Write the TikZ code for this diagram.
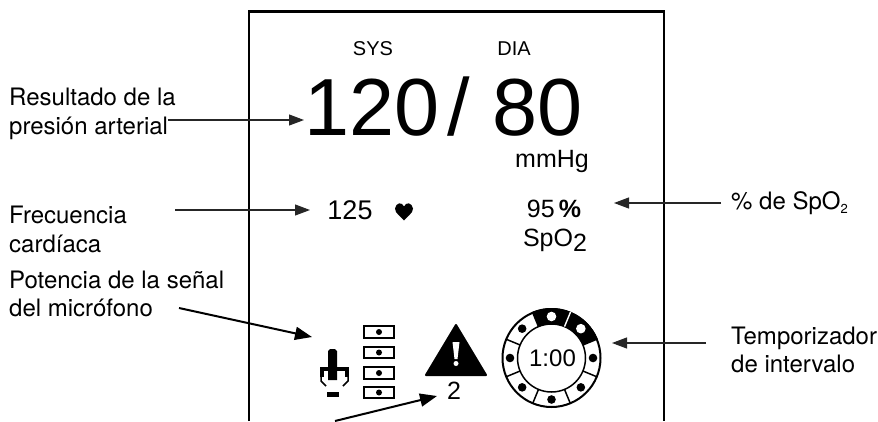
\documentclass[tikz,border=0pt]{standalone}
\usepackage{fontspec}
\setmainfont{TeX Gyre Heros}
\newfontfamily\disp{Liberation Sans}
\usetikzlibrary{arrows.meta}
\tikzset{
 lbl/.style={anchor=base west,inner sep=0pt,font=\fontsize{24}{26}\selectfont},
 dsp/.style={anchor=base,inner sep=0pt,font=\disp\fontsize{20}{22}\selectfont},
 conn/.style={line width=1.1pt,-{Stealth[length=15pt,width=11pt,inset=0pt]},black!85},
 connb/.style={line width=2pt,-{Stealth[length=17pt,width=13pt,inset=0pt]}},
 frame/.style={line width=2.4pt},
 seg/.style={line width=1.5pt},
 bar/.style={draw,line width=1.6pt,fill=white}
}
\begin{document}
\begin{tikzpicture}[x=1pt,y=-1pt]
\useasboundingbox (0,0) rectangle (878,421);
\draw[frame] (249,421) -- (249,11.5) -- (664,11.5) -- (664,421);
% display
\node[dsp] (sys) at (373,55) {SYS};
\node[dsp] (dia) at (514,55) {DIA};
\node[dsp,anchor=base west,font=\disp\fontsize{81}{88}\selectfont] (bp) at (304,135) {120\kern8pt/ 80};
\node[dsp,font=\disp\fontsize{25}{28}\selectfont] (mm) at (552,167) {mmHg};
\node[dsp,font=\disp\fontsize{27}{30}\selectfont] (hr) at (350,219) {125};
\node[inner sep=0pt] (heart) at (404,211) {\tikz[x=1pt,y=-1pt]\fill (0,4) .. controls (1,-2) and (7,-3) .. (9,2) .. controls (11,-3) and (17,-2) .. (18,4) .. controls (18,9) and (12,12) .. (9,16) .. controls (6,12) and (0,9) .. (0,4) -- cycle;};
\node[dsp,font=\disp\fontsize{25}{28}\selectfont] (spv) at (554,217) {95\,\textbf{\%}};
\node[dsp,font=\disp\fontsize{25}{28}\selectfont] (spn) at (555,246) {SpO\raisebox{-5pt}{2}};
% labels
\node[lbl] (l1a) at (9,105) {Resultado de la};
\node[lbl] (l1b) at (9,134) {presión arterial};
\node[lbl] (l2a) at (9,223) {Frecuencia};
\node[lbl] (l2b) at (9,252) {cardíaca};
\node[lbl] (l3a) at (9,288) {Potencia de la señal};
\node[lbl] (l3b) at (9,316) {del micrófono};
\node[lbl] (l4) at (731,209) {\% de SpO\raisebox{-4pt}{\fontsize{13}{13}\selectfont 2}};
\node[lbl] (l5a) at (731,344) {Temporizador};
\node[lbl] (l5b) at (731,372) {de intervalo};
% mic icon
\fill (328,351) -- (330,349) -- (335,349) -- (337,351) -- (337,380) -- (328,380) -- cycle;
\draw[line width=3.5pt] (322,377) -- (322,369) -- (347,369) -- (347,377);
\draw[line width=1.5pt] (321,376) -- (321,381) -- (326,386);
\draw[line width=1.5pt] (348,376) -- (348,381) -- (343,386);
\fill (327,392) rectangle (339,397);
% level boxes
\foreach \yy/\hh in {326/338,347/358,367/379,387/398}{
  \draw[bar] (364,\yy) rectangle (394,\hh);
  \fill (379,{(\yy+\hh)/2}) circle (3);
}
% alarm
\draw[fill,line join=round,line width=2pt] (456,325) -- (486,375) -- (426,375) -- cycle;
\fill[white] (452.5,342) -- (459.5,342) -- (457.5,359) -- (454.5,359) -- cycle;
\fill[white] (456,363.5) circle (2.5);
\node[dsp,font=\disp\fontsize{25}{28}\selectfont] (two) at (454,399) {2};
% timer
\begin{scope}[shift={(551.5,358)},x=1pt,y=1pt]
  \fill (67.5:50) arc[start angle=67.5,end angle=112.5,radius=50] -- (112.5:34) arc[start angle=112.5,end angle=67.5,radius=34] -- cycle;
  \fill (22.5:50) arc[start angle=22.5,end angle=67.5,radius=50] -- (67.5:34) arc[start angle=67.5,end angle=22.5,radius=34] -- cycle;
  \draw[line width=2pt] (0,0) circle (49);
  \draw[seg] (0,0) circle (34);
  \draw[white,line width=1.4pt] (67.5:34) -- (67.5:50);
  \foreach \a in {22.5,112.5,157.5,202.5,247.5,292.5,337.5}{
    \draw[seg] (\a:34) -- (\a:49);
  }
  \foreach \a in {0,135,180,225,270,315}{
    \fill (\a:41.5) circle (4.3);
  }
  \foreach \a in {45,90}{
    \fill[white] (\a:41.5) circle (4.8);
  }
  \node[inner sep=0pt,font=\disp\fontsize{24}{26}\selectfont] (tm) at (1,0) {1:00};
\end{scope}
% connector ends
\coordinate (a1s) at (168,120); \coordinate (a1t) at (304,120);
\coordinate (a2s) at (175,210); \coordinate (a2t) at (310,210);
\coordinate (a3s) at (179,308); \coordinate (a3t) at (312,337);
\coordinate (a4s) at (721,203); \coordinate (a4t) at (614,203);
\coordinate (a5s) at (706,343); \coordinate (a5t) at (612,343);
\coordinate (a6s) at (335,421); \coordinate (a6t) at (437,396);
\draw[conn] (a1s) -- (a1t);
\draw[conn] (a2s) -- (a2t);
\draw[connb] (a3s) -- (a3t);
\draw[conn] (a4s) -- (a4t);
\draw[conn] (a5s) -- (a5t);
\draw[connb] (a6s) -- (a6t);
\end{tikzpicture}
\end{document}
